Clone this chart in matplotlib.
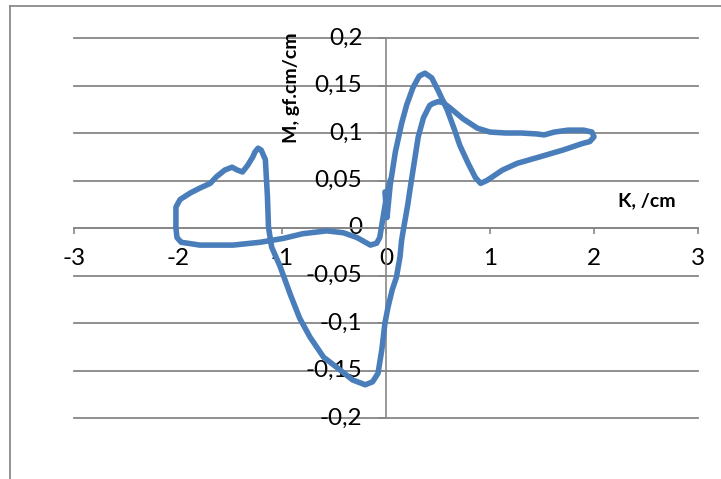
import matplotlib
matplotlib.use("Agg")
import matplotlib.pyplot as plt
from matplotlib.lines import Line2D
from matplotlib.ticker import FixedLocator, FixedFormatter

plt.rcParams['font.family'] = ['Lato', 'DejaVu Sans']
plt.rcParams['axes.unicode_minus'] = False

# ---- data ----
K = [-0.01, 0.01, 0.04, 0.09, 0.15, 0.2, 0.26, 0.32, 0.375, 0.44, 0.5, 0.59, 0.66,
     0.71, 0.79, 0.86, 0.91, 0.97, 1.12, 1.26, 1.45, 1.70, 1.89, 1.96, 2.0, 1.98,
     1.9, 1.75, 1.62, 1.52, 1.45, 1.3, 1.15, 1.0, 0.88, 0.74, 0.62, 0.55, 0.5,
     0.45, 0.42, 0.36, 0.31, 0.28, 0.25, 0.23, 0.21, 0.17, 0.15, 0.135, 0.1, 0.06,
     0.02, -0.01, -0.04, -0.077, -0.13, -0.2, -0.32, -0.47, -0.6, -0.73, -0.83,
     -0.92, -1.02, -1.1, -1.13, -1.14, -1.16, -1.2, -1.23, -1.26, -1.28, -1.33,
     -1.38, -1.43, -1.48, -1.55, -1.63, -1.69, -1.79, -1.88, -1.98, -2.02, -2.02,
     -2.01, -1.97, -1.79, -1.47, -1.21, -0.99, -0.8, -0.57, -0.41, -0.28, -0.15,
     -0.09, -0.06, -0.03, 0.0, 0.04]
M = [0.038, 0.011, 0.045, 0.08, 0.11, 0.13, 0.148, 0.16, 0.163, 0.158, 0.145, 0.124,
     0.103, 0.087, 0.068, 0.053, 0.047, 0.05, 0.061, 0.068, 0.074, 0.082, 0.089,
     0.091, 0.096, 0.101, 0.103, 0.103, 0.101, 0.098, 0.099, 0.1, 0.1, 0.101, 0.105,
     0.115, 0.126, 0.132, 0.133, 0.131, 0.129, 0.116, 0.096, 0.075, 0.054, 0.04,
     0.025, 0.0, -0.013, -0.03, -0.052, -0.065, -0.083, -0.1, -0.128, -0.153,
     -0.162, -0.165, -0.16, -0.147, -0.136, -0.115, -0.095, -0.07, -0.04, -0.02,
     0.001, 0.033, 0.072, 0.082, 0.084, 0.08, 0.075, 0.066, 0.059, 0.061, 0.064,
     0.061, 0.054, 0.047, 0.042, 0.037, 0.03, 0.022, 0.0, -0.01, -0.015, -0.018,
     -0.018, -0.015, -0.011, -0.006, -0.003, -0.005, -0.01, -0.018, -0.016, -0.01,
     0.01, 0.03, 0.05]

x_ticks = [-3, -2, -1, 0, 1, 2, 3]
x_labels = ['-3', '-2', '-1', '0', '1', '2', '3']
y_ticks = [-0.2, -0.15, -0.1, -0.05, 0, 0.05, 0.1, 0.15, 0.2]
y_labels = ['-0,2', '-0,15', '-0,1', '-0,05', '0', '0,05', '0,1', '0,15', '0,2']
x_title = 'K, /cm'
y_title = 'M, gf.cm/cm'

# ---- figure ----
W, H = 721, 479
fig = plt.figure(figsize=(W / 100, H / 100), dpi=100)
ax = fig.add_axes([74 / W, 1 - 418 / H, 624 / W, 380 / H])
ax.set_xlim(-3, 3)
ax.set_ylim(-0.2, 0.2)
ax.patch.set_visible(False)

grid_c = '#878787'
for yv in y_ticks:
    ax.axhline(yv, color=grid_c, lw=1.3, clip_on=False, zorder=1)

for s in ['top', 'right']:
    ax.spines[s].set_visible(False)
ax.spines['left'].set_position(('data', 0))
ax.spines['bottom'].set_position(('data', 0))
ax.spines['left'].set_color(grid_c)
ax.spines['bottom'].set_color(grid_c)
ax.spines['left'].set_linewidth(1.2)
ax.spines['bottom'].set_linewidth(1.3)

ax.xaxis.set_major_locator(FixedLocator(x_ticks))
ax.xaxis.set_major_formatter(FixedFormatter(x_labels))
ax.yaxis.set_major_locator(FixedLocator(y_ticks))
ax.yaxis.set_major_formatter(FixedFormatter(y_labels))
ax.tick_params(axis='x', direction='out', length=4.5, width=1.2, color=grid_c,
               pad=10, labelsize=17.5, labelcolor='black')
ax.tick_params(axis='y', direction='out', length=6, width=1.2, color=grid_c,
               pad=11, labelsize=17.5, labelcolor='black')
for lab in ax.get_yticklabels():
    lab.set_verticalalignment('center')

ax.plot(K, M, color='#4A7EBB', lw=4.0, solid_joinstyle='round',
        solid_capstyle='round', zorder=3, clip_on=False)

fig.text(292 / W, 1 - 88 / H, y_title, rotation=90, fontsize=14,
         fontweight='bold', ha='center', va='center')
fig.text(647 / W, 1 - 201 / H, x_title, fontsize=14, fontweight='bold',
         ha='center', va='center')

# chart-area border (left and top edges visible)
fig.add_artist(Line2D([10 / W, 10 / W], [0, 1 - 6 / H], transform=fig.transFigure,
                      color='#8a8a8a', lw=1.3))
fig.add_artist(Line2D([10 / W, 1], [1 - 6 / H, 1 - 6 / H], transform=fig.transFigure,
                      color='#8a8a8a', lw=1.3))

fig.savefig('out.png', dpi=100)
